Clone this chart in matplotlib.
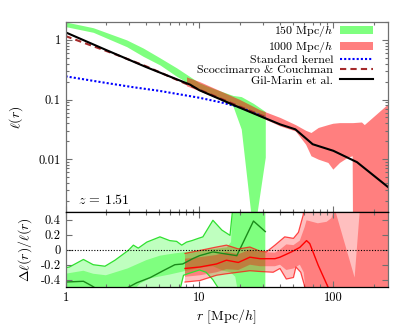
import numpy as np
import matplotlib
matplotlib.use('Agg')
import matplotlib.pyplot as plt
from matplotlib.ticker import FixedLocator, FixedFormatter, LogLocator, NullFormatter

plt.rcParams['font.family'] = 'cmr10'
plt.rcParams['mathtext.fontset'] = 'cm'
plt.rcParams['axes.formatter.use_mathtext'] = True
plt.rcParams['axes.unicode_minus'] = False

# ---- upper panel: l(r) ----
# 150 Mpc/h box band
r_150 = [1.0, 1.61, 2.86, 3.8, 5.07, 6.75, 10, 13, 17.8, 20.5, 25.3, 31]
hi_150 = [2.0, 1.6, 1.0, 0.73, 0.5, 0.34, 0.19, 0.15, 0.117, 0.112, 0.086, 0.063]
lo_150 = [1.67, 1.34, 0.77, 0.53, 0.38, 0.245, 0.147, 0.112, 0.077, 0.032, 0.0005, 0.0108]

# 1000 Mpc/h box band
r_1000 = [8.0, 10, 20, 28, 40, 52, 62, 68, 77, 91, 99, 111, 127, 138, 139.5, 162, 170, 256]
hi_1000 = [0.24, 0.2, 0.1, 0.068, 0.05, 0.038, 0.0305, 0.028, 0.034, 0.038, 0.04, 0.041,
           0.041, 0.041, 0.041, 0.042, 0.038, 0.085]
lo_1000 = [0.17, 0.14, 0.073, 0.052, 0.036, 0.0297, 0.0178, 0.0114, 0.01, 0.0088, 0.0068,
           0.0088, 0.0107, 0.0114, 1e-4, 1e-4, 1e-4, 1e-4]

r_std = [1, 2, 3.2, 5, 10, 15, 20, 25, 31]
l_std = [0.245, 0.19, 0.161, 0.14, 0.107, 0.088, 0.074, 0.061, 0.05]

r_sc = [1, 1.5, 2.3, 4, 10, 20, 31]
l_sc = [1.16, 0.83, 0.585, 0.36, 0.146, 0.076, 0.051]

r_gm = [1, 2, 4, 8.5, 10, 20, 30, 40, 52, 60, 70, 100, 150, 256]
l_gm = [1.34, 0.68, 0.35, 0.178, 0.143, 0.073, 0.05, 0.0383, 0.0316, 0.024, 0.0178,
        0.0138, 0.0089, 0.0034]

# ---- lower panel: relative deviation ----
# 150 Mpc/h
r_g_oup = [1.0, 1.07, 1.36, 1.61, 1.97, 2.34, 2.94, 3.21, 3.49, 4.04, 5.07, 6.0, 6.75,
           7.37, 8.0, 8.77, 9.8, 10.6, 12.6, 14.7, 16.9, 18.3, 31]
g_oup = [-0.24, -0.23, -0.13, -0.2, -0.22, -0.14, -0.01, 0.06, 0.02, 0.10, 0.17, 0.12, 0.11,
         0.06, 0.1, 0.12, 0.15, 0.17, 0.39, 0.26, 0.19, 0.8, 0.8]
r_g_olo = [1.0, 7.0, 7.6, 8.5, 10, 11.2, 12.6, 13.7, 14.5, 31]
g_olo = [-0.8, -0.6, -0.34, -0.31, -0.27, -0.3, -0.4, -0.5, -0.8, -0.8]
r_g_iup = [1.0, 1.36, 1.61, 2.0, 2.9, 4.0, 5.07, 6.5, 8.0, 10, 13, 16, 17.2, 18, 31]
g_iup = [-0.32, -0.28, -0.32, -0.34, -0.25, -0.14, -0.08, -0.05, -0.03, -0.01, 0.01, 0.03,
         0.1, 0.8, 0.8]
r_g_ilo = [1.0, 3.0, 3.6, 4.3, 6.0, 8.0, 10, 12.6, 15, 17, 18.5, 20.5, 31]
g_ilo = [-0.8, -0.6, -0.45, -0.38, -0.33, -0.28, -0.24, -0.22, -0.28, -0.3, -0.36, -0.8, -0.8]
r_g_mid = [1.0, 1.36, 1.57, 2.0, 2.5, 2.94, 3.4, 4.3, 5.35, 6.55, 7.5, 8.9, 10, 12.6, 19,
           25.3, 31]
g_mid = [-0.43, -0.42, -0.48, -0.6, -0.6, -0.5, -0.44, -0.37, -0.28, -0.2, -0.19, -0.12,
         -0.08, -0.03, -0.08, 0.38, 0.24]

# 1000 Mpc/h
r_r_oup = [7.8, 10.1, 13.4, 15.9, 19.5, 23.8, 28.3, 31.6, 36.6, 43.3, 50.3, 54.8, 59.5, 62, 256]
r_oup = [-0.05, -0.01, 0.035, 0.06, 0.01, 0.035, -0.02, -0.03, 0.06, 0.17, 0.15, 0.23, 0.46,
         0.8, 0.8]
r_r_olo = [7.8, 10.1, 13.4, 15.9, 19.5, 23.8, 28.3, 35.5, 39.9, 44.5, 50.3, 52.5, 57, 61.3,
           64, 256]
r_olo = [-0.43, -0.41, -0.34, -0.32, -0.3, -0.28, -0.29, -0.3, -0.25, -0.39, -0.37, -0.23,
         -0.3, -0.5, -0.8, -0.8]
r_r_iup = [7.8, 10.1, 13.4, 15.9, 19.5, 23.8, 28.3, 36.6, 39.9, 44.5, 50.3, 56.1, 61, 63,
           76.5, 89, 96.7, 102, 144, 157, 165, 256]
r_iup = [-0.12, -0.1, -0.07, -0.03, -0.06, 0.0, -0.03, -0.04, 0.0, 0.07, 0.06, 0.12, 0.3,
         0.39, 0.35, 0.37, 0.42, 0.55, -0.37, 0.5, 0.8, 0.8]
r_r_ilo = [7.8, 10.1, 13.4, 15.9, 19.5, 23.8, 28.3, 36.6, 39.9, 44.5, 50.3, 56.1, 60, 64, 256]
r_ilo = [-0.36, -0.34, -0.3, -0.26, -0.27, -0.2, -0.22, -0.22, -0.2, -0.27, -0.25, -0.2,
         -0.3, -0.8, -0.8]
r_r_mid = [7.8, 10.1, 13.4, 15.9, 19.5, 23.8, 28.3, 36.6, 39.9, 48.6, 56.1, 63.0, 66.6, 77.1,
           91.3, 100]
r_mid = [-0.25, -0.23, -0.19, -0.14, -0.17, -0.1, -0.12, -0.12, -0.1, -0.03, 0.03, 0.12, 0.08,
         -0.21, -0.5, -0.65]

GREEN = '#00ff00'
RED = '#ff0000'
FRAME = '#707070'


def band(ax, rx_up, up, rx_lo, lo, color, alpha):
    "closed polygon between an upper and a lower curve"
    xs = list(rx_up) + list(rx_lo)[::-1]
    ys = list(up) + list(lo)[::-1]
    ax.fill(xs, ys, color=color, alpha=alpha, lw=0)


def style_axis(ax):
    ax.tick_params(which='both', direction='in', top=True, right=True, color=FRAME,
                   labelsize=9)
    ax.tick_params(which='major', length=4.5, width=0.8)
    ax.tick_params(which='minor', length=2.3, width=0.8)
    for s in ax.spines.values():
        s.set_color(FRAME)
        s.set_linewidth(0.9)


fig = plt.figure(figsize=(4.07, 3.26), dpi=100)
ax1 = fig.add_axes([0.161, 0.3497, 0.792, 0.583])
ax2 = fig.add_axes([0.161, 0.121, 0.792, 0.2287])

# upper panel
ax1.fill_between(r_150, lo_150, hi_150, color=GREEN, alpha=0.5, lw=0, label='150 Mpc/$h$')
ax1.fill_between(r_1000, lo_1000, hi_1000, color=RED, alpha=0.5, lw=0, label='1000 Mpc/$h$')
ax1.plot(r_std, l_std, color='#0000ff', lw=1.5, ls=(0, (1, 1)), label='Standard kernel')
ax1.plot(r_sc, l_sc, color='#a52a2a', lw=1.5, ls=(0, (3, 2)),
         label='Scoccimarro & Couchman')
ax1.plot(r_gm, l_gm, color='black', lw=1.5, label='Gil-Marin et al.')

ax1.set_xscale('log')
ax1.set_yscale('log')
ax1.set_xlim(1, 255)
ax1.set_ylim(0.0013, 2)
ax1.yaxis.set_major_locator(FixedLocator([0.01, 0.1, 1]))
ax1.yaxis.set_major_formatter(FixedFormatter(['0.01', '0.1', '1']))
ax1.yaxis.set_minor_locator(LogLocator(base=10, subs=np.arange(2, 10)))
ax1.yaxis.set_minor_formatter(NullFormatter())
ax1.xaxis.set_minor_locator(LogLocator(base=10, subs=np.arange(2, 10)))
ax1.xaxis.set_major_locator(FixedLocator([1, 10, 100]))
ax1.tick_params(labelbottom=False)
style_axis(ax1)
ax1.spines['bottom'].set_color('black')
ax1.set_ylabel(r'$\ell(r)$', fontsize=10, labelpad=10)
ax1.text(0.04, 0.04, r'$z\,=\,1.51$', transform=ax1.transAxes, fontsize=10)

leg = ax1.legend(loc='upper right', bbox_to_anchor=(0.975, 1.03), frameon=False,
                 markerfirst=False, fontsize=8.6, handlelength=2.7, handletextpad=0.6,
                 labelspacing=-0.02, borderaxespad=0.2)

# lower panel
band(ax2, r_g_oup, g_oup, r_g_olo, g_olo, GREEN, 0.25)
band(ax2, r_g_iup, g_iup, r_g_ilo, g_ilo, GREEN, 1/3)
band(ax2, r_r_oup, r_oup, r_r_olo, r_olo, RED, 0.25)
band(ax2, r_r_iup, r_iup, r_r_ilo, r_ilo, RED, 1/3)
ax2.plot(r_g_oup, g_oup, color='#30e030', lw=0.9)
ax2.plot(r_g_olo, g_olo, color='#30e030', lw=0.9)
ax2.plot(r_g_mid, g_mid, color='#1a8a1a', lw=1.0)
ax2.plot(r_r_oup, r_oup, color='#ff1010', lw=0.9, alpha=0.75)
ax2.plot(r_r_olo, r_olo, color='#ff1010', lw=0.9, alpha=0.75)
ax2.plot(r_r_mid, r_mid, color=RED, lw=1.0)
ax2.axhline(0, color='black', lw=0.8, ls=(0, (1, 1.5)))

ax2.set_xscale('log')
ax2.set_xlim(1, 255)
ax2.set_ylim(-0.49, 0.5)
ax2.xaxis.set_major_locator(FixedLocator([1, 10, 100]))
ax2.xaxis.set_major_formatter(FixedFormatter(['1', '10', '100']))
ax2.xaxis.set_minor_locator(LogLocator(base=10, subs=np.arange(2, 10)))
ax2.xaxis.set_minor_formatter(NullFormatter())
ax2.yaxis.set_major_locator(FixedLocator([-0.4, -0.2, 0, 0.2, 0.4]))
ax2.yaxis.set_major_formatter(FixedFormatter(['-0.4', '-0.2', '0', '0.2', '0.4']))
style_axis(ax2)
ax2.spines['top'].set_color('black')
ax2.spines['bottom'].set_color('black')
ax2.set_xlabel(r'$r$ [Mpc/$h$]', fontsize=10, labelpad=3)
ax2.set_ylabel(r'$\Delta\ell(r)/\ell(r)$', fontsize=10, labelpad=5)

fig.savefig('out.png', dpi=100)
